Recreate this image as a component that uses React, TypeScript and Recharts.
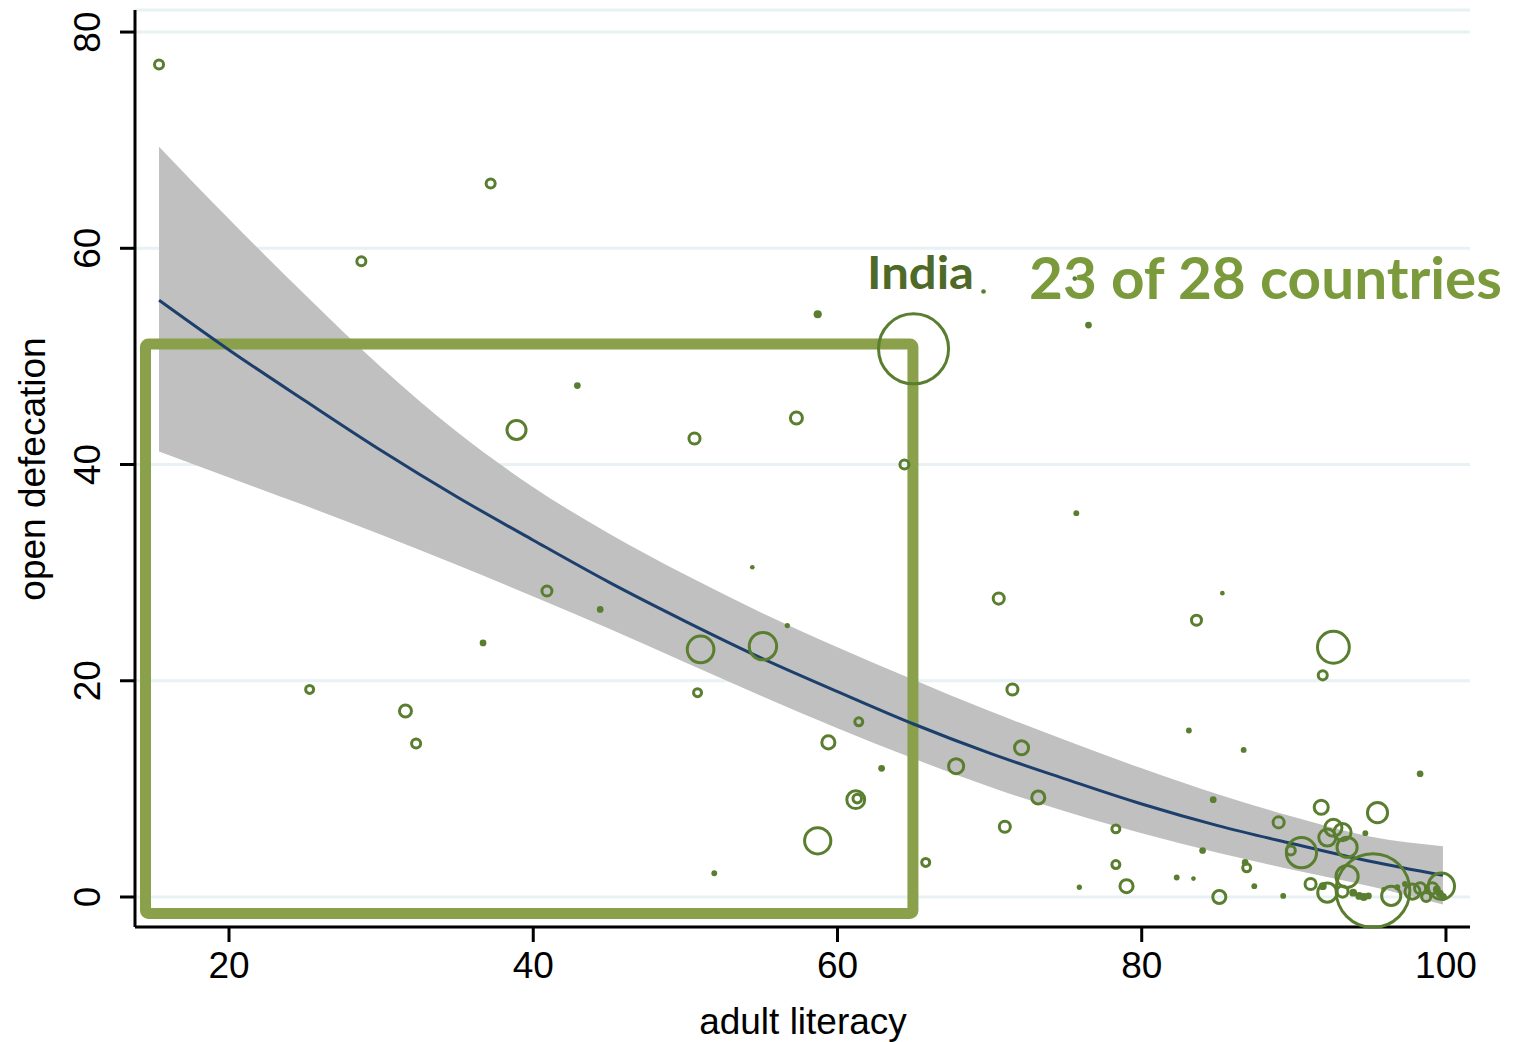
import React from "react"
import {
  ComposedChart, Area, Line, Scatter, XAxis, YAxis, ZAxis, CartesianGrid, ReferenceArea,
} from "recharts"

// quadratic fit and its confidence band
const fitX   = [15.4, 20, 25, 30, 35, 40, 45, 50, 55, 60, 65, 70, 75, 80, 85, 90, 95, 99.8]
const fitY   = [55.2, 50.6, 45.9, 41.3, 37.0, 33.0, 29.1, 25.5, 22.1, 19.0, 16.0, 13.3, 10.9, 8.6, 6.6, 4.9, 3.3, 2.0]
const ciHigh = [69.4, 62.7, 55.7, 49.0, 43.0, 37.9, 33.6, 29.8, 26.3, 23.1, 20.1, 17.2, 14.5, 11.9, 9.5, 7.4, 5.6, 4.7]
const ciLow  = [41.2, 38.8, 36.2, 33.5, 30.7, 27.8, 24.8, 21.7, 18.6, 15.6, 12.8, 10.2, 7.9, 5.9, 4.1, 2.5, 1.0, -0.7]

// countries: adult literacy (%), open defecation (%), population (millions)
const literacy = [
  15.4, 37.2, 28.7, 58.7, 65.0, 69.6, 75.6, 76.5, 42.9, 38.9,
  50.6, 57.3, 64.4, 75.7, 54.4, 40.9, 44.4, 56.7, 36.7, 51.0,
  55.1, 25.3, 50.8, 31.6, 32.3, 61.4, 59.4, 62.9, 61.2, 61.3,
  58.7, 51.9, 65.8, 70.6, 71.5, 67.8, 72.1, 71.0, 73.2, 75.9,
  78.3, 78.3, 79.0, 83.6, 85.3, 83.1, 84.0, 82.3, 83.4, 85.1,
  84.7, 86.7, 86.8, 86.9, 87.4, 89.0, 89.3, 92.6, 91.9, 98.3,
  91.8, 95.5, 90.5, 89.8, 92.6, 93.2, 92.2, 93.5, 94.7, 93.5,
  95.2, 92.2, 93.2, 91.1, 93.9, 94.3, 94.6, 94.9, 96.4, 97.3,
  97.8, 98.3, 99.1, 99.7, 99.6, 99.8, 99.4, 95.9, 96.8, 98.7,
  91.9,
]
const openDef = [
  77.0, 66.0, 58.8, 53.9, 50.7, 56.0, 57.2, 52.9, 47.3, 43.2,
  42.4, 44.3, 40.0, 35.5, 30.5, 28.3, 26.6, 25.1, 23.5, 22.9,
  23.2, 19.2, 18.9, 17.2, 14.2, 16.2, 14.3, 11.9, 9.0, 9.1,
  5.2, 2.2, 3.2, 27.6, 19.2, 12.1, 13.8, 6.5, 9.2, 0.9,
  6.3, 3.0, 1.0, 25.6, 28.1, 15.4, 4.3, 1.8, 1.7, 0.0,
  9.0, 13.6, 3.2, 2.7, 1.0, 6.9, 0.1, 23.1, 20.5, 11.4,
  8.3, 7.8, 4.1, 4.3, 6.4, 6.0, 5.5, 4.6, 5.9, 1.9,
  0.6, 0.4, 0.5, 1.2, 0.4, 0.1, 0.0, 0.1, 0.1, 1.2,
  0.5, 0.8, 0.8, 1.0, 0.3, 0.0, 0.7, 0.7, 0.9, 0.0,
  1.0,
]
const population = [
  16, 16, 16, 10, 1210, 2, 2, 6, 6, 80,
  25, 30, 16, 4, 2, 20, 6, 3, 6, 175,
  185, 12, 12, 30, 16, 12, 36, 6, 70, 14,
  170, 4, 12, 25, 25, 49, 42, 25, 36, 3,
  12, 12, 36, 20, 2, 4, 6, 4, 2, 36,
  6, 4, 6, 12, 4, 25, 4, 250, 16, 6,
  42, 100, 225, 16, 64, 64, 64, 100, 4, 121,
  1340, 81, 25, 25, 9, 9, 9, 6, 81, 4,
  49, 25, 25, 170, 9, 9, 9, 2, 4, 16,
  9,
]

const xTicks = [20, 40, 60, 80, 100]
const yTicks = [0, 20, 40, 60, 80]

const fitData = fitX.map((x, i) => ({ x, fit: fitY[i], band: [ciLow[i], ciHigh[i]] }))
const points = literacy.map((x, i) => ({ x, y: openDef[i], pop: population[i] }))

const GREEN = "#5a7e2f"
const FONT = "'Liberation Sans', Arial, sans-serif"

const Bubble = (props: any) => {
  const { cx, cy, size, width } = props
  if (cx == null || cy == null) return null
  const r = size != null ? Math.sqrt(Math.max(size, 0) / Math.PI) : (width || 0) / 2
  if (r < 3.4) return <circle cx={cx} cy={cy} r={r + 0.9} fill={GREEN} />
  const drawn = r < 10 ? r + 0.5 : r
  return <circle cx={cx} cy={cy} r={drawn} fill="none" stroke={GREEN} strokeWidth={3} />
}

const XTick = ({ x, y, payload }: any) => (
  <text x={x} y={y + 34} textAnchor="middle" fontFamily={FONT} fontSize={37} fill="#000">
    {payload.value}
  </text>
)

const YTick = ({ x, y, payload }: any) => (
  <text x={x - 18} y={y} textAnchor="middle" fontFamily={FONT} fontSize={37} fill="#000"
    transform={`rotate(-90, ${x - 18}, ${y})`}>
    {payload.value}
  </text>
)

export default function App() {
  return (
    <div style={{ position: "absolute", left: 0, top: 0, width: 1516, height: 1042, background: "#fff" }}>
      <ComposedChart width={1516} height={1042} data={fitData}
        margin={{ top: 10, right: 46, bottom: 0, left: 0 }}>
        <CartesianGrid horizontal vertical={false} stroke="#e8f1f3" strokeWidth={3} />
        <XAxis type="number" dataKey="x" domain={[13.82, 101.58]} ticks={xTicks} height={115}
          tickSize={15} tick={<XTick />} axisLine={{ stroke: "#000", strokeWidth: 3 }}
          tickLine={{ stroke: "#000", strokeWidth: 3 }} />
        <YAxis type="number" domain={[-2.775, 82.04]} ticks={yTicks} width={135}
          tickSize={15} tick={<YTick />} axisLine={{ stroke: "#000", strokeWidth: 3 }}
          tickLine={{ stroke: "#000", strokeWidth: 3 }} />
        <ZAxis type="number" dataKey="pop" domain={[0, 1350]} range={[0, 4301]} />
        <Area type="monotone" dataKey="band" fill="#c0c0c0" fillOpacity={1} stroke="none"
          isAnimationActive={false} />
        <Line type="monotone" dataKey="fit" stroke="#1c3f6c" strokeWidth={3} dot={false}
          isAnimationActive={false} />
        <Scatter data={points} dataKey="y" shape={<Bubble />} isAnimationActive={false} />
        <ReferenceArea x1={14.51} x2={64.96} y1={-1.53} y2={51.14} fill="none"
          stroke="#8aa04b" strokeWidth={11} radius={3} ifOverflow="visible" />
      </ComposedChart>
      <svg width={1516} height={1042} style={{ position: "absolute", left: 0, top: 0, pointerEvents: "none" }}>
        <text x={803} y={1034} textAnchor="middle" fontFamily={FONT} fontSize={37} fill="#000">
          adult literacy
        </text>
        <text x={45} y={469} textAnchor="middle" fontFamily={FONT} fontSize={37} fill="#000"
          transform="rotate(-90, 45, 469)">
          open defecation
        </text>
        <text x={867} y={289} fontFamily="Lato, 'Open Sans', sans-serif" fontWeight={700}
          fontSize={46} fill="#4f6a28" textLength={107} lengthAdjust="spacingAndGlyphs">
          India
        </text>
        <text x={1029} y={299} fontFamily="Lato, 'Open Sans', sans-serif" fontWeight={700}
          fontSize={57} fill="#7a9a3c" textLength={473} lengthAdjust="spacingAndGlyphs">
          23 of 28 countries
        </text>
      </svg>
    </div>
  )
}
